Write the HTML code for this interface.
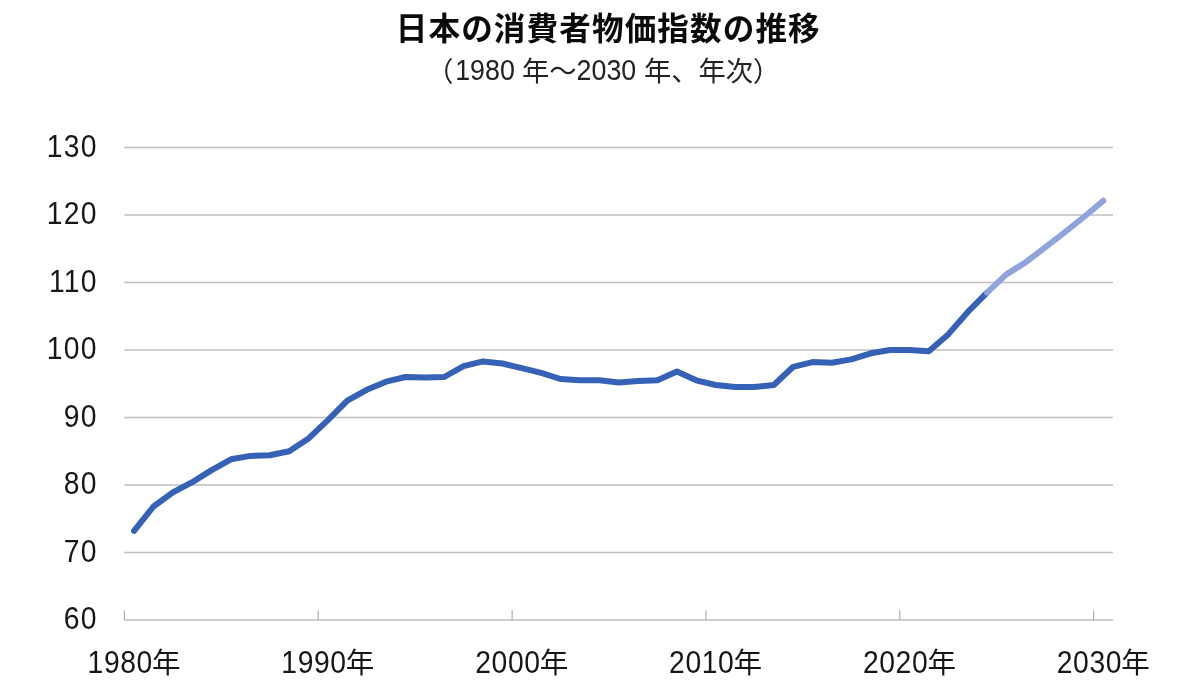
<!DOCTYPE html>
<html lang="ja">
<head>
<meta charset="utf-8">
<title>日本の消費者物価指数の推移</title>
<style>
html,body{margin:0;padding:0;background:#fff;}
body{width:1200px;height:700px;overflow:hidden;font-family:"Liberation Sans","Noto Sans CJK JP",sans-serif;}
svg{display:block;}
text{font-family:"Liberation Sans","Noto Sans CJK JP",sans-serif;fill:#111;}
.title{font-size:31.6px;letter-spacing:1.1px;font-weight:700;fill:#0a0a0a;}
.sub text{font-size:27.25px;fill:#222;}
.sub .sd{font-size:26.8px;}
.ax text{fill:#161616;}
.ax .d{font-size:28.3px;letter-spacing:1.27px;}
.ax .dx{letter-spacing:0.6px;}
.ax .k{font-size:28.6px;}
.grid line{stroke:#bebebe;stroke-width:1.5;}
.grid .tk{stroke:#a9a9a9;stroke-width:1.1;}
</style>
</head>
<body>
<svg width="1200" height="700" viewBox="0 0 1200 700">
<rect width="1200" height="700" fill="#ffffff"/>
<text class="title" x="608.3" y="39.7" text-anchor="middle">日本の消費者物価指数の推移</text>
<g class="sub"><text x="426.2" y="80.8">（</text><text class="sd" transform="translate(455.2,80.4) scale(1,1.08)">1980</text><text x="522" y="80.8"> 年～</text><text class="sd" transform="translate(576.6,80.4) scale(1,1.08)">2030</text><text x="644" y="80.8"> 年、年次）</text></g>
<g class="grid">
<line x1="124.4" y1="147.5" x2="1113.0" y2="147.5"/>
<line x1="124.4" y1="215.0" x2="1113.0" y2="215.0"/>
<line x1="124.4" y1="282.5" x2="1113.0" y2="282.5"/>
<line x1="124.4" y1="350.0" x2="1113.0" y2="350.0"/>
<line x1="124.4" y1="417.4" x2="1113.0" y2="417.4"/>
<line x1="124.4" y1="484.9" x2="1113.0" y2="484.9"/>
<line x1="124.4" y1="552.4" x2="1113.0" y2="552.4"/>
<line x1="124.4" y1="619.9" x2="1113.0" y2="619.9"/>
<line class="tk" x1="124.4" y1="610.3" x2="124.4" y2="619.9"/>
<line class="tk" x1="318.2" y1="610.3" x2="318.2" y2="619.9"/>
<line class="tk" x1="512.1" y1="610.3" x2="512.1" y2="619.9"/>
<line class="tk" x1="705.9" y1="610.3" x2="705.9" y2="619.9"/>
<line class="tk" x1="899.8" y1="610.3" x2="899.8" y2="619.9"/>
<line class="tk" x1="1093.6" y1="610.3" x2="1093.6" y2="619.9"/>
</g>
<g class="ax">
<text class="d" transform="translate(97.8,156.6) scale(1,1.125)" text-anchor="end">130</text>
<text class="d" transform="translate(97.8,224.1) scale(1,1.125)" text-anchor="end">120</text>
<text class="d" transform="translate(97.8,291.6) scale(1,1.125)" text-anchor="end">110</text>
<text class="d" transform="translate(97.8,359.1) scale(1,1.125)" text-anchor="end">100</text>
<text class="d" transform="translate(97.8,426.5) scale(1,1.125)" text-anchor="end">90</text>
<text class="d" transform="translate(97.8,494.0) scale(1,1.125)" text-anchor="end">80</text>
<text class="d" transform="translate(97.8,561.5) scale(1,1.125)" text-anchor="end">70</text>
<text class="d" transform="translate(97.8,629.0) scale(1,1.125)" text-anchor="end">60</text>
<text class="d dx" transform="translate(152.9,673.0) scale(1,1.125)" text-anchor="end">1980</text><text class="k" x="152.0" y="673.0">年</text>
<text class="d dx" transform="translate(346.7,673.0) scale(1,1.125)" text-anchor="end">1990</text><text class="k" x="345.8" y="673.0">年</text>
<text class="d dx" transform="translate(540.6,673.0) scale(1,1.125)" text-anchor="end">2000</text><text class="k" x="539.7" y="673.0">年</text>
<text class="d dx" transform="translate(734.4,673.0) scale(1,1.125)" text-anchor="end">2010</text><text class="k" x="733.5" y="673.0">年</text>
<text class="d dx" transform="translate(928.3,673.0) scale(1,1.125)" text-anchor="end">2020</text><text class="k" x="927.4" y="673.0">年</text>
<text class="d dx" transform="translate(1122.1,673.0) scale(1,1.125)" text-anchor="end">2030</text><text class="k" x="1121.2" y="673.0">年</text>
</g>
<polyline points="134.1,530.8 153.5,506.5 172.9,492.4 192.2,482.2 211.6,470.1 231.0,459.3 250.4,455.9 269.8,455.2 289.2,451.2 308.6,438.4 327.9,420.1 347.3,400.6 366.7,389.8 386.1,381.7 405.5,377.0 424.9,377.6 444.2,377.0 463.6,366.2 483.0,361.4 502.4,363.5 521.8,368.2 541.2,372.9 560.5,379.0 579.9,380.3 599.3,380.3 618.7,382.4 638.1,381.0 657.5,380.3 676.9,371.6 696.2,380.3 715.6,385.0 735.0,387.1 754.4,387.1 773.8,385.0 793.2,366.8 812.5,362.1 831.9,362.8 851.3,359.4 870.7,353.3 890.1,350.0 909.5,350.0 928.8,351.3 948.2,334.4 967.6,312.2 987.0,292.6" fill="none" stroke="#3561b6" stroke-width="6.0" stroke-linecap="round" stroke-linejoin="round"/>
<polyline points="987.0,292.6 1006.4,274.4 1025.8,262.2 1045.2,247.4 1064.5,232.5 1083.9,217.0 1103.3,200.8" fill="none" stroke="#8fa3dc" stroke-width="6.0" stroke-linecap="round" stroke-linejoin="round"/>
</svg>
</body>
</html>
